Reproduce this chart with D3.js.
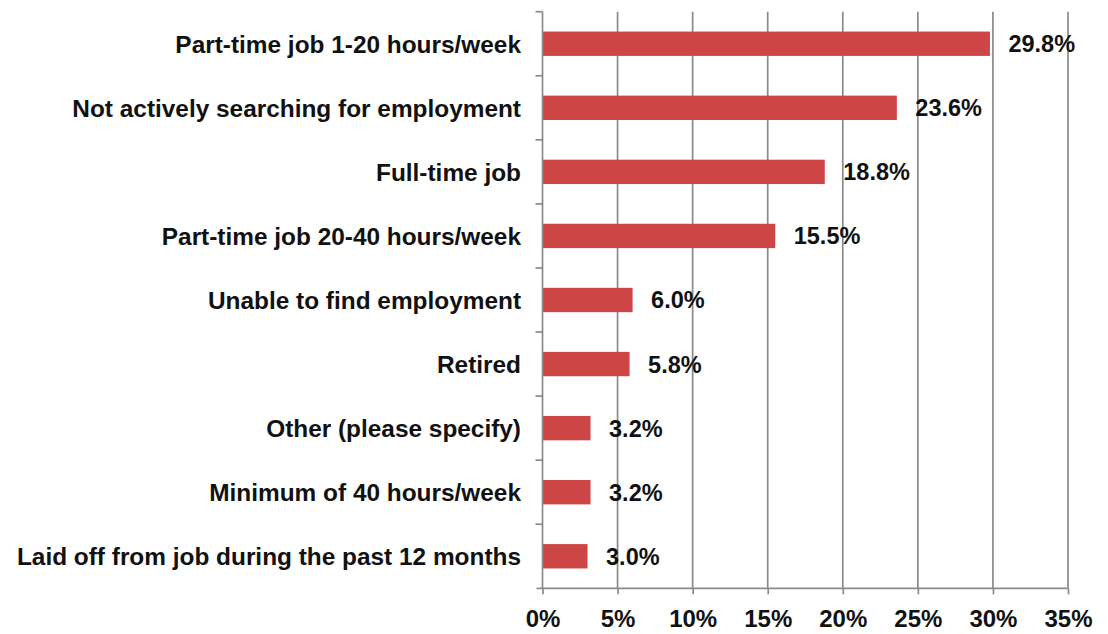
<!DOCTYPE html>
<html>
<head>
<meta charset="utf-8">
<script src="https://cdn.jsdelivr.net/npm/d3@7"></script>
<style>
  html, body { margin: 0; padding: 0; background: #fff; }
  svg { display: block; }
  text { font-family: "Liberation Sans", Arial, sans-serif; font-weight: bold; fill: #111; }
</style>
</head>
<body>
<svg id="chart" width="1108" height="634"></svg>
<script>
// Employment status of respondents (percent)
const categories = [
  "Part-time job 1-20 hours/week",
  "Not actively searching for employment",
  "Full-time job",
  "Part-time job 20-40 hours/week",
  "Unable to find employment",
  "Retired",
  "Other (please specify)",
  "Minimum of 40 hours/week",
  "Laid off from job during the past 12 months"
];
const values = [29.8, 23.6, 18.8, 15.5, 6.0, 5.8, 3.2, 3.2, 3.0];
const xTicks = [0, 5, 10, 15, 20, 25, 30, 35];

const svg = d3.select("#chart");
const W = 1108, H = 634;
const margin = { left: 542.5, right: 40, top: 11.7, bottom: 45.7 };

const x = d3.scaleLinear().domain([0, 35]).range([margin.left, W - margin.right]);
const y = d3.scaleBand().domain(categories)
  .range([margin.top, H - margin.bottom])
  .paddingInner(0.62).paddingOuter(0.31);

const gridColor = "#8a8a8a";
const lineW = 1.7;

// vertical gridlines
svg.append("g").selectAll("line").data(xTicks.slice(1)).join("line")
  .attr("x1", d => x(d)).attr("x2", d => x(d))
  .attr("y1", margin.top).attr("y2", H - margin.bottom)
  .attr("stroke", gridColor).attr("stroke-width", lineW);

// bars
svg.append("g").selectAll("rect").data(values).join("rect")
  .attr("x", x(0))
  .attr("y", (d, i) => y(categories[i]))
  .attr("width", d => x(d) - x(0))
  .attr("height", y.bandwidth())
  .attr("fill", "#cd4545");

// value labels
svg.append("g").selectAll("text").data(values).join("text")
  .attr("x", d => x(d) + 18.5)
  .attr("y", (d, i) => y(categories[i]) + y.bandwidth() / 2)
  .attr("dy", "0.36em")
  .attr("font-size", 23.5)
  .text(d => d.toFixed(1) + "%");

// x axis
const xAxis = d3.axisBottom(x).tickValues(xTicks).tickFormat(d => d + "%").tickSize(6).tickPadding(15.5);
const gx = svg.append("g").attr("transform", `translate(0,${H - margin.bottom})`).call(xAxis);
gx.select(".domain").attr("stroke", gridColor).attr("stroke-width", lineW).attr("d", `M${x(0) - 6},0H${x(35)}`);
gx.selectAll(".tick line").attr("stroke", gridColor).attr("stroke-width", lineW);
gx.selectAll(".tick text").attr("font-size", 24).attr("font-family", "Liberation Sans, Arial, sans-serif")
  .attr("font-weight", "bold").attr("fill", "#111");

// y axis with boundary ticks between categories
const gy = svg.append("g");
gy.append("line").attr("x1", x(0)).attr("x2", x(0)).attr("y1", margin.top).attr("y2", H - margin.bottom)
  .attr("stroke", gridColor).attr("stroke-width", lineW);
const step = y.step();
const bounds = d3.range(categories.length).map(i => margin.top + i * step);
gy.selectAll("line.tk").data(bounds).join("line").attr("class", "tk")
  .attr("x1", x(0) - 7).attr("x2", x(0)).attr("y1", d => d).attr("y2", d => d)
  .attr("stroke", gridColor).attr("stroke-width", lineW);

// category labels
gy.selectAll("text").data(categories).join("text")
  .attr("x", 521)
  .attr("y", d => y(d) + y.bandwidth() / 2)
  .attr("dy", "0.36em")
  .attr("text-anchor", "end")
  .attr("font-size", 24.4)
  .text(d => d);
</script>
</body>
</html>
